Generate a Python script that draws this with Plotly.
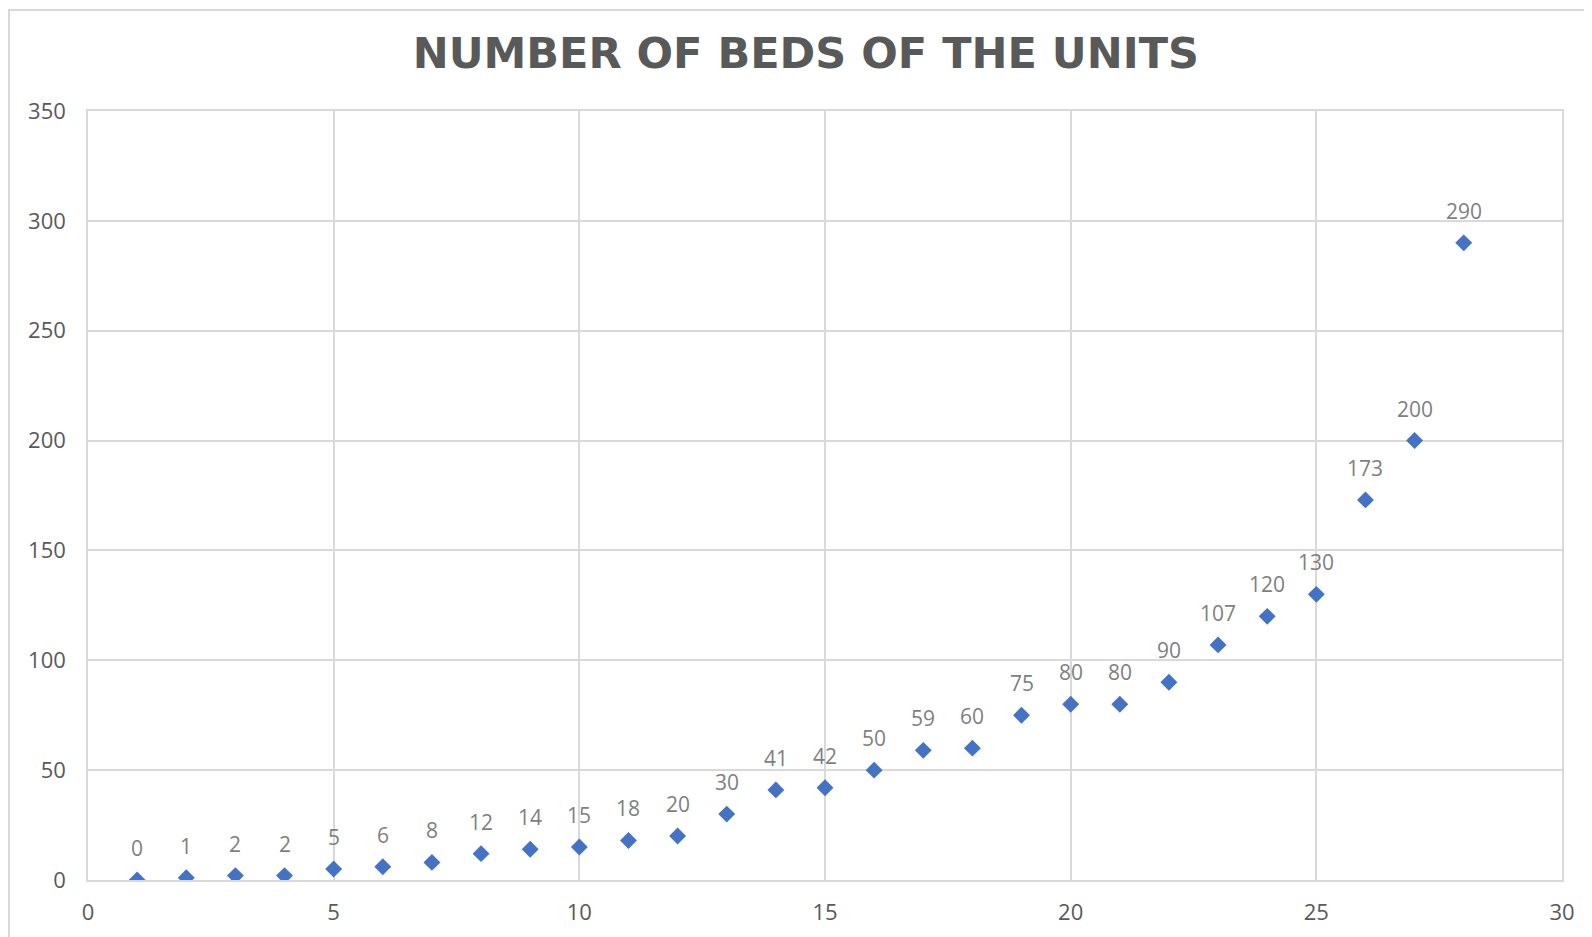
import plotly.graph_objects as go

units = list(range(1, 29))
beds = [0, 1, 2, 2, 5, 6, 8, 12, 14, 15, 18, 20, 30, 41, 42, 50, 59, 60, 75, 80, 80,
        90, 107, 120, 130, 173, 200, 290]
title_text = "NUMBER OF BEDS OF THE UNITS"
x_ticks = [0, 5, 10, 15, 20, 25, 30]
y_ticks = [0, 50, 100, 150, 200, 250, 300, 350]

GRID = "#d9d9d9"
fig = go.Figure()
fig.add_trace(go.Scatter(
    x=units, y=beds, mode="markers",
    marker=dict(symbol="diamond", size=13, color="#4472C4"),
    hoverinfo="x+y", showlegend=False,
))

for xv, yv in zip(units, beds):
    fig.add_annotation(x=xv, y=yv, text=str(yv), showarrow=False, yshift=32,
                       font=dict(family="Open Sans, Noto Sans, sans-serif", size=21, color="#7f7f7f"))

fig.update_layout(
    width=1592, height=937,
    margin=dict(l=80, r=38, t=103, b=65),
    paper_bgcolor="white", plot_bgcolor="white",
    title=dict(text=title_text, x=0.487, xref="paper", xanchor="center",
               y=1 - 45 / 937, yref="container", yanchor="middle",
               font=dict(family="DejaVu Sans, sans-serif", size=43, color="#595959", weight="bold")),
    font=dict(family="Open Sans, Noto Sans, sans-serif", size=22, color="#595959"),
    xaxis=dict(range=[0, 30], tickvals=x_ticks, showgrid=True, gridcolor=GRID, gridwidth=1.5,
               showline=True, linecolor=GRID, linewidth=1.5, mirror=True, zeroline=False,
               ticks="", ticklabelstandoff=12),
    yaxis=dict(range=[0, 350], tickvals=y_ticks, showgrid=True, gridcolor=GRID, gridwidth=1.5,
               showline=True, linecolor=GRID, linewidth=1.5, mirror=True, zeroline=False,
               ticks="", ticklabelstandoff=16),
    shapes=[dict(type="rect", xref="paper", yref="paper",
                 x0=(9 - 88) / 1474, x1=(1620 - 88) / 1474,
                 y0=-(937 + 20 - 880) / 769, y1=(880 - 10) / 769,
                 line=dict(color=GRID, width=2), fillcolor="rgba(0,0,0,0)", layer="below")],
)

fig.write_html("out.html")
